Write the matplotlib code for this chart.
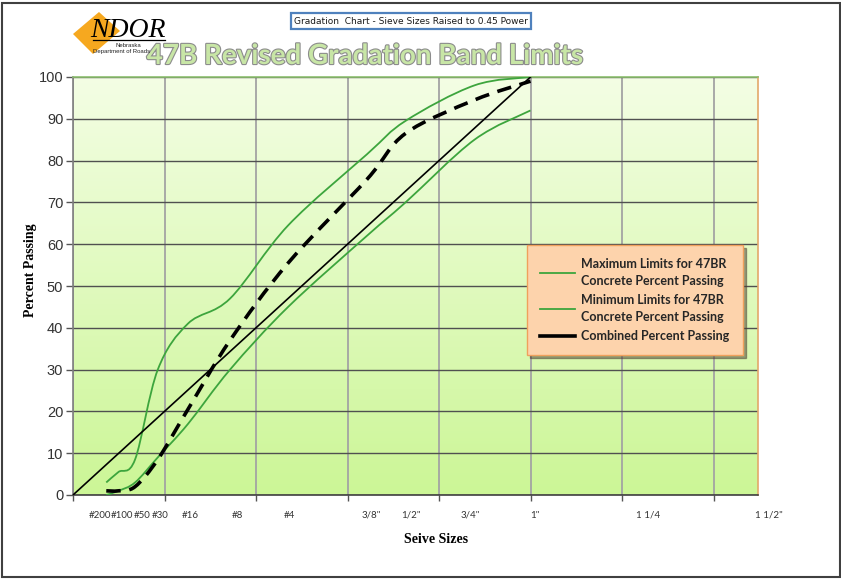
"""
47B revised gradation band limits chart (sieve sizes raised to 0.45 power).
"""

import matplotlib

matplotlib.use("Agg")
import matplotlib.patheffects as pe
import matplotlib.pyplot as plt
import numpy as np
from matplotlib.lines import Line2D
from matplotlib.patches import PathPatch, Polygon, Rectangle
from matplotlib.path import Path

# Sieve openings (mm) used for the curves
SIEVE_MM = [0.075, 0.15, 0.3, 0.6, 1.18, 2.36, 4.75, 9.5, 12.5, 19.0, 25.4]

# Percent passing
MAX_LIMITS = [3, 5.5, 8.5, 30, 41, 47, 64.5, 81.5, 89.5, 98, 100]
MIN_LIMITS = [0, 1, 3, 9, 17, 30, 45, 62, 70, 85, 92]
COMBINED = [1, 1, 2, 8.5, 20.5, 37, 55.5, 75.5, 86.5, 94.5, 99]

# Maximum density line (0.45 power) in chart units
DENSITY_X = [0, 5]
DENSITY_Y = [0, 100]

# x-axis text labels and where they sit (chart units)
TICK_LABELS = ["#200", "#100", "#50", "#30", "#16", "#8", "#4",
               '3/8"', '1/2"', '3/4"', '1"', "1 1/4", '1 1/2"']
TICK_X = [0.29, 0.54, 0.76, 0.95, 1.28, 1.80, 2.36,
          3.26, 3.69, 4.34, 5.05, 6.28, 7.60]

W, H = 841, 581


def sieve_x(mm):
    """0.45 power scale, 1 inch sieve sits at 5."""
    return 5 * (np.asarray(mm) / 25.4) ** 0.45


def smooth_path(xs, ys):
    """Excel style smoothed line as a chain of cubic Beziers."""
    pts = np.column_stack([xs, ys]).astype(float)
    n = len(pts)
    verts = [pts[0]]
    codes = [Path.MOVETO]
    for i in range(n - 1):
        p0 = pts[max(i - 1, 0)]
        p1 = pts[i]
        p2 = pts[i + 1]
        p3 = pts[min(i + 2, n - 1)]
        verts += [p1 + (p2 - p0) / 6, p2 - (p3 - p1) / 6, p2]
        codes += [Path.CURVE4] * 3
    return Path(verts, codes)


def fx(px):
    return px / W


def fy(py):
    return 1 - py / H


fig = plt.figure(figsize=(W / 100, H / 100), dpi=100)
ax = fig.add_axes([fx(73), fy(495), 685 / W, 418 / H])

xmax = 685 / 91.5
ax.set_xlim(0, xmax)
ax.set_ylim(0, 100)

# plot area gradient: pale at the top, lime at the bottom
top = np.array([0.955, 0.995, 0.895])
bottom = np.array([0.80, 0.965, 0.59])
t = np.linspace(0, 1, 256)[:, None]
grad = (top * (1 - t) + bottom * t)[:, None, :]
ax.imshow(grad, extent=[0, xmax, 0, 100], aspect="auto", zorder=0)

# grid
ax.set_axisbelow(True)
ax.set_yticks(range(0, 101, 10))
ax.set_xticks(range(0, 8))
ax.set_xticklabels([])
ax.yaxis.grid(True, color="#505050", lw=1.0)
ax.xaxis.grid(True, color="#a3a3a3", lw=1.3)
ax.tick_params(axis="y", length=5, width=1, color="#555555", pad=2,
               labelsize=10.5, labelcolor="#333333")
ax.tick_params(axis="x", length=4, width=1, color="#555555")
for lab in ax.get_yticklabels():
    lab.set_family("Liberation Sans")

ax.spines["left"].set_color("#7f7f7f")
ax.spines["bottom"].set_color("#404040")
ax.spines["right"].set_color("#e3a86a")
ax.spines["top"].set_color("#8cbf6e")
for s in ax.spines.values():
    s.set_linewidth(1.2)

for lab, x in zip(TICK_LABELS, TICK_X):
    ax.text(x, -3.8, lab, ha="center", va="top", fontsize=7,
            family="Lato", color="#333333", clip_on=False)

# curves
xs = sieve_x(SIEVE_MM)
green = "#3da53d"
ax.add_patch(PathPatch(smooth_path(xs, MAX_LIMITS), fill=False,
                       ec=green, lw=1.3, zorder=3))
ax.add_patch(PathPatch(smooth_path(xs, MIN_LIMITS), fill=False,
                       ec=green, lw=1.3, zorder=3))
ax.plot(DENSITY_X, DENSITY_Y, color="black", lw=1.2, zorder=3)
ax.add_patch(PathPatch(smooth_path(xs, COMBINED), fill=False, ec="black",
                       lw=2.6, ls=(0, (4, 2.4)), capstyle="butt", zorder=4))

# axis titles
ax.set_xlabel("Seive Sizes", family="Liberation Serif", fontweight="bold",
              fontsize=10)
ax.xaxis.set_label_coords((436 - 73) / 685, -(533 - 495) / 418)
ax.set_ylabel("Percent Passing", family="Liberation Serif", fontweight="bold",
              fontsize=10)
ax.yaxis.set_label_coords(-(73 - 37) / 685, (495 - 270) / 418)

# legend
handles = [
    Line2D([], [], color=green, lw=1.3),
    Line2D([], [], color=green, lw=1.3),
    Line2D([], [], color="black", lw=2.6),
]
labels = [
    "Maximum Limits for 47BR\nConcrete Percent Passing",
    "Minimum Limits for 47BR\nConcrete Percent Passing",
    "Combined Percent Passing",
]
leg = ax.legend(handles, labels, loc="upper left",
                bbox_to_anchor=((527 - 73) / 685, (495 - 245) / 418),
                prop={"family": "Lato", "weight": "bold", "size": 9},
                frameon=True, fancybox=False, shadow=True,
                handlelength=2.8, handletextpad=0.5, labelspacing=0.6,
                borderpad=1.05, borderaxespad=0)
leg.get_frame().set_facecolor("#fdd3ac")
leg.get_frame().set_edgecolor("#f0a05c")
leg.get_frame().set_alpha(1)
for txt in leg.get_texts():
    txt.set_color("#262626")
    txt.set_linespacing(1.45)

# headline
fig.text(fx(365), fy(56), "47B Revised Gradation Band Limits", ha="center",
         va="center", fontsize=20, family="Lato", fontweight="bold",
         color="#c8e6a6",
         path_effects=[pe.withStroke(linewidth=1.6, foreground="#8c8c8c")])
fig.text(fx(411), fy(21), "Gradation  Chart - Sieve Sizes Raised to 0.45 Power",
         ha="center", va="center", fontsize=6.5,
         family=["Liberation Sans Narrow", "DejaVu Sans"], color="#1a1a1a",
         bbox=dict(boxstyle="square,pad=0.35", fc="white", ec="#4f81bd", lw=1.6))

# NDOR logo
diamond = [(73, 34), (99, 12), (120, 31), (93, 54)]
fig.patches.append(Polygon([(fx(a), fy(b)) for a, b in diamond], closed=True,
                           transform=fig.transFigure, fc="#f6a81f", ec="none"))
fig.text(fx(90), fy(37), "NDOR", ha="left", va="baseline", fontsize=20,
         family="Liberation Serif", style="italic", color="black")
fig.add_artist(Line2D([fx(93), fx(165)], [fy(40), fy(40)], color="black",
                      lw=0.9, transform=fig.transFigure))
fig.text(fx(128), fy(45.5), "Nebraska", ha="center", va="center", fontsize=4.3,
         family="Liberation Sans", color="#222222")
fig.text(fx(122), fy(51.5), "Department of Roads", ha="center", va="center",
         fontsize=4.3, family="Liberation Sans", color="#222222")

# outer frame
fig.patches.append(Rectangle((fx(2), fy(577)), 838 / W, 574 / H, fill=False,
                             ec="#404040", lw=1.5, transform=fig.transFigure))

fig.savefig("out.png", dpi=100, facecolor="white")
